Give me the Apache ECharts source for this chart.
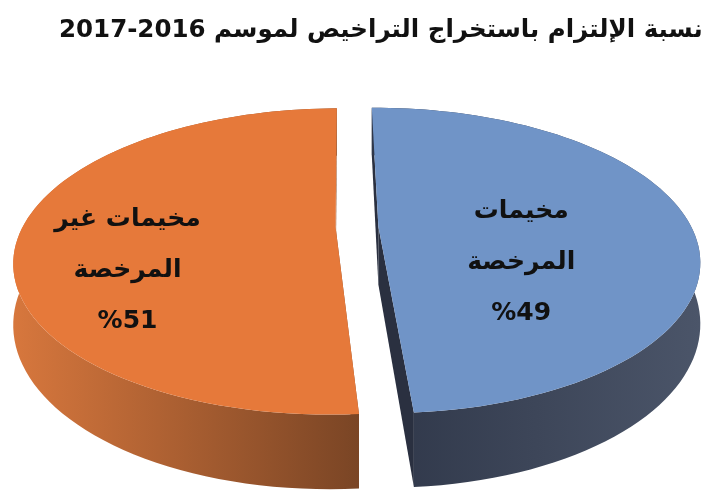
<!DOCTYPE html>
<html>
<head>
<meta charset="utf-8">
<script src="https://cdn.jsdelivr.net/npm/echarts@6/dist/echarts.min.js"></script>
<style>
  html, body { margin: 0; padding: 0; background: #fff; }
  #chart { width: 713px; height: 500px; }
</style>
</head>
<body>
<div id="chart"></div>
<script>
const titleText = "نسبة الإلتزام باستخراج التراخيص لموسم 2016-2017";
const categories = ["مخيمات المرخصة", "مخيمات غير المرخصة"];
const values = [49, 51];
const labelLines = [["مخيمات", "المرخصة"], ["مخيمات غير", "المرخصة"]];
const percentLabels = ["%49", "%51"];

const topColors = ["#7094c7", "#e6793a"];
const sideColors = [["#2f3749", "#4b5569"], ["#d7773d", "#7a4525"]];
const cutColors = ["#2a3040", "#8a4e2a"];

// 3d pie geometry, screen px
const cx = 357, cy = 227, R = 313, ky = 0.4645, depth = 58;
const dist = 4.5 * R, explode = 21.4;
const startAngle = -0.6 * Math.PI / 180;
const labelRadius = [0.43, 0.62];

const chart = echarts.init(document.getElementById("chart"));

function proj(X, Y, Z) {
  const f = dist / (dist + Y);
  return [cx + X * f, cy - Y * ky * f + Z * f];
}

function renderItem(params, api) {
  const i = params.dataIndex;
  const total = values.reduce((s, v) => s + v, 0);
  let before = 0;
  for (let k = 0; k < i; k++) before += values[k];
  const a0 = startAngle + before / total * Math.PI * 2;
  const a1 = startAngle + (before + values[i]) / total * Math.PI * 2;
  const mid = (a0 + a1) / 2;
  const ex = explode * Math.sin(mid);
  const ey = explode * Math.cos(mid);

  const rimPt = (t, z) => proj(R * Math.sin(t) + ex, R * Math.cos(t) + ey, z);
  const arc = (from, to, z) => {
    const pts = [];
    const n = 90;
    for (let s = 0; s <= n; s++) pts.push(rimPt(from + (to - from) * s / n, z));
    return pts;
  };

  const c0 = proj(ex, ey, 0);
  const c1 = proj(ex, ey, depth);
  const topFace = [c0].concat(arc(a0, a1, 0));
  const rim = arc(a0, a1, 0).concat(arc(a1, a0, depth));
  const cutA = [c0, rimPt(a0, 0), rimPt(a0, depth), c1];
  const cutB = [c0, rimPt(a1, 0), rimPt(a1, depth), c1];

  const xs = rim.map(p => p[0]);
  const minX = Math.min(...xs), maxX = Math.max(...xs);
  const rimFill = new echarts.graphic.LinearGradient(minX, 0, maxX, 0, [
    { offset: 0, color: sideColors[i][0] },
    { offset: 1, color: sideColors[i][1] }
  ], true);

  const lr = labelRadius[i] * R;
  const lp = proj(lr * Math.sin(mid) + ex, lr * Math.cos(mid) - 0.25 * R + ey, 0);

  return {
    type: "group",
    children: [
      { type: "polygon", shape: { points: cutA }, style: { fill: cutColors[i] } },
      { type: "polygon", shape: { points: cutB }, style: { fill: cutColors[i] } },
      { type: "polygon", shape: { points: rim }, style: { fill: rimFill } },
      { type: "polygon", shape: { points: topFace }, style: { fill: topColors[i] } },
      {
        type: "text",
        x: lp[0],
        y: lp[1],
        style: {
          text: labelLines[i].concat([percentLabels[i]]).join("\n"),
          align: "center",
          verticalAlign: "middle",
          fontFamily: "DejaVu Sans",
          fontWeight: "bold",
          fontSize: 25,
          lineHeight: 51,
          fill: "#111"
        }
      }
    ]
  };
}

const option = {
  backgroundColor: "#fff",
  animation: false,
  title: {
    text: titleText,
    left: 54,
    top: 13,
    textStyle: {
      fontFamily: "DejaVu Sans",
      fontWeight: "bold",
      fontSize: 24.5,
      color: "#111"
    }
  },
  series: [
    {
      type: "custom",
      coordinateSystem: "none",
      renderItem: renderItem,
      data: values.map((v, i) => ({ name: categories[i], value: v }))
    }
  ]
};

chart.setOption(option);
</script>
</body>
</html>
